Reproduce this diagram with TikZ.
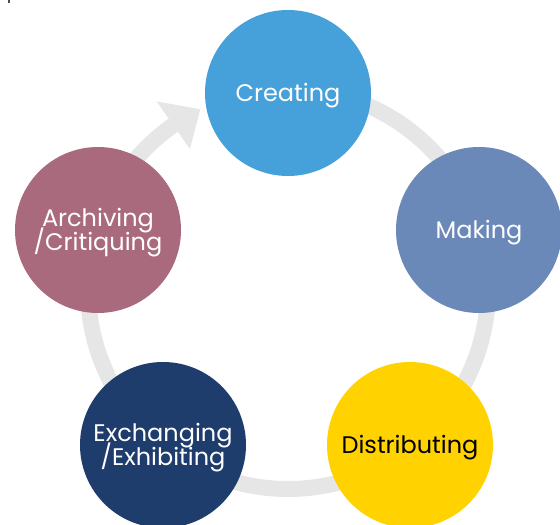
\documentclass[tikz,border=0pt]{standalone}
\usepackage{fontspec}
\setmainfont{Poppins}
\usetikzlibrary{calc}
\definecolor{ringgray}{RGB}{230,230,230}
\definecolor{cblue}{RGB}{70,160,218}
\definecolor{cmaking}{RGB}{106,136,184}
\definecolor{cyellow}{RGB}{255,210,0}
\definecolor{cnavy}{RGB}{30,60,108}
\definecolor{cmauve}{RGB}{170,106,126}
\newcommand\mytightlines{\setlength{\lineskiplimit}{-30pt}\setlength{\lineskip}{0pt}}
\tikzset{
  stage/.style={circle, minimum size=166pt, inner sep=0pt},
  stagetext/.style={inner sep=0pt, text=white, align=center,
    font=\fontsize{24pt}{24pt}\selectfont\mytightlines},
  ring/.style={draw=ringgray, line width=16pt},
}
\begin{document}
\begin{tikzpicture}[x=1pt,y=1pt]
\useasboundingbox (0,0) rectangle (560,525);
\fill[black!70] (8,522) rectangle (10,525);
% ring
\coordinate (rc) at (288,236);
\draw[ring] ($(rc)+(90:200)$) arc[start angle=90, end angle=-235, radius=200];
\coordinate (tip) at ($(rc)+(116:200)$);
\coordinate (b1) at ($(rc)+(125:171)$);
\coordinate (b2) at ($(rc)+(125:229)$);
\fill[ringgray] (b1) -- (tip) -- (b2) -- cycle;
% stages
\node[stage, fill=cblue] (creating) at (288,432) {};
\node[stage, fill=cmaking] (making) at (479,295) {};
\node[stage, fill=cyellow] (distributing) at (410,80) {};
\node[stage, fill=cnavy] (exchanging) at (163,80) {};
\node[stage, fill=cmauve] (archiving) at (98,295) {};
% texts
\node[stagetext] (creatingt) at ([yshift=-3pt]creating.center) {Creating};
\node[stagetext] (makingt) at ([yshift=-3pt]making.center) {Making};
\node[stagetext, text=black] (distributingt) at ([yshift=-3pt]distributing.center) {Distributing};
\node[stagetext] (exchangingt) at ([yshift=-3pt]exchanging.center) {Exchanging\\/Exhibiting};
\node[stagetext] (archivingt) at ([yshift=-3pt]archiving.center) {Archiving\\/Critiquing};
\end{tikzpicture}
\end{document}
